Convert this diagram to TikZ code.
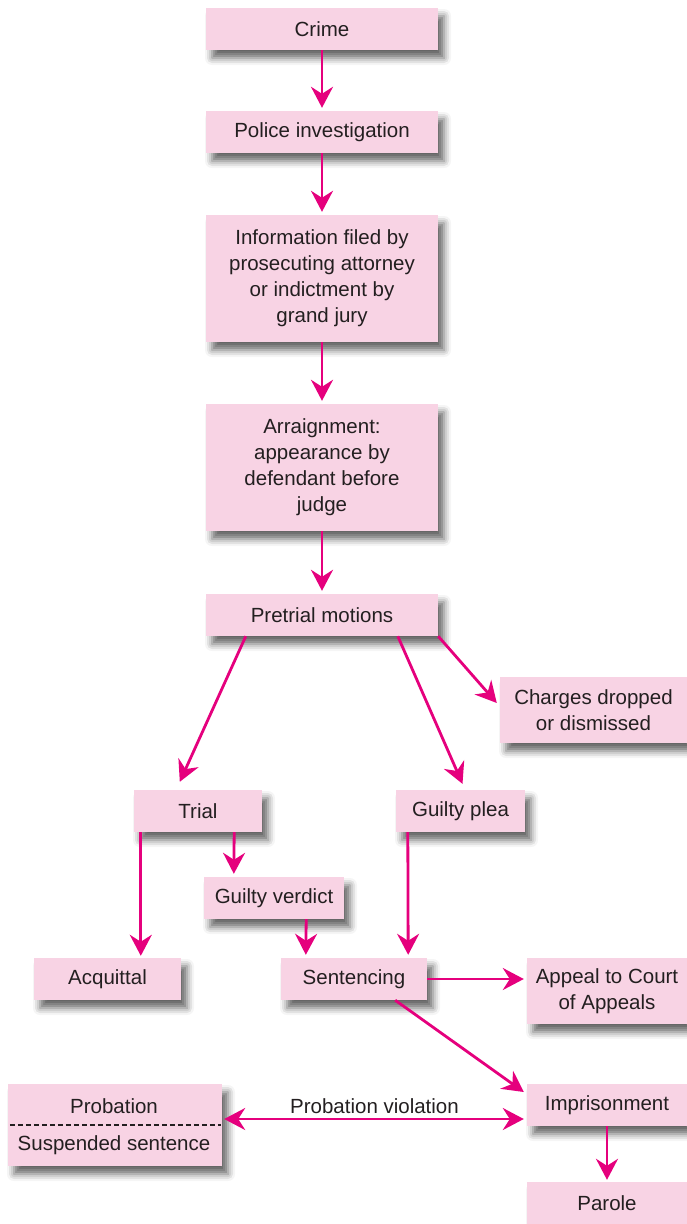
\documentclass[tikz,border=0pt]{standalone}
\usepackage{fontspec}
\setmainfont{Liberation Sans}
\usetikzlibrary{arrows.meta,shadows.blur}
\definecolor{boxpink}{HTML}{F8D3E4}
\definecolor{arrowmag}{HTML}{E5007D}
\definecolor{txt}{HTML}{231F20}
\tikzset{
  stagefont/.style={font=\fontsize{20.5}{26}\selectfont},
  stage/.style={fill=boxpink, text=txt, align=center, inner sep=2pt, stagefont,
    blur shadow={shadow xshift=6pt, shadow yshift=-8pt, shadow blur radius=7pt, shadow opacity=60}},
  flow/.style={draw=arrowmag, line width=2.8pt,
    -{Stealth[length=21pt, width=22pt, inset=7pt]}},
  twoway/.style={draw=arrowmag, line width=2.8pt,
    {Stealth[length=21pt, width=22pt, inset=7pt]}-{Stealth[length=21pt, width=22pt, inset=7pt]}}
}
\begin{document}
\begin{tikzpicture}[x=1pt, y=-1pt]
\useasboundingbox (0,0) rectangle (687,1224);

% stages of the criminal case
\node[stage, minimum width=232pt, minimum height=42pt] (crime) at (322,29) {Crime};
\node[stage, minimum width=232pt, minimum height=42pt] (police) at (322,132) {Police investigation};
\node[stage, minimum width=232pt, minimum height=127pt] (info) at (322,278.5)
  {Information filed by\\prosecuting attorney\\or indictment by\\grand jury};
\node[stage, minimum width=232pt, minimum height=127pt] (arraign) at (322,467.5)
  {Arraignment:\\appearance by\\defendant before\\judge};
\node[stage, minimum width=232pt, minimum height=42pt] (pretrial) at (322,615) {Pretrial motions};
\node[stage, minimum width=187pt, minimum height=66pt] (charges) at (593.5,710) {Charges dropped\\or dismissed};
\node[stage, minimum width=128pt, minimum height=42pt] (trial) at (198,811) {Trial};
\node[stage, minimum width=129pt, minimum height=42pt] (plea) at (460.5,811) {Guilty plea};
\node[stage, minimum width=140pt, minimum height=42pt] (verdict) at (274,898) {Guilty verdict};
\node[stage, minimum width=147pt, minimum height=42pt] (acquittal) at (107.5,979) {Acquittal};
\node[stage, minimum width=146pt, minimum height=42pt] (sentencing) at (354,979) {Sentencing};
\node[stage, minimum width=160pt, minimum height=66pt] (appeal) at (607,991) {Appeal to Court\\of Appeals};
\node[stage, minimum width=160pt, minimum height=42pt] (prison) at (607,1105) {Imprisonment};
\node[stage, minimum width=214pt, minimum height=82pt] (probation) at (115,1125) {};
\node[stage, minimum width=160pt, minimum height=42pt] (parole) at (607,1203) {Parole};

% split probation box
\draw[txt, line width=1.3pt, dash pattern=on 5pt off 3pt]
  ([xshift=2pt]probation.west) -- ([xshift=-1pt]probation.east);
\node[text=txt, stagefont] (probtop) at (114,1106) {Probation};
\node[text=txt, stagefont] (probbot) at (114,1145) {Suspended sentence};

% connectors
\draw[flow, shorten >=3pt] (crime) -- (police);
\draw[flow, shorten >=3pt] (police) -- (info);
\draw[flow, shorten >=3pt] (info) -- (arraign);
\draw[flow, shorten >=3pt] (arraign) -- (pretrial);
\draw[flow] ([xshift=40pt]pretrial.south west) -- ([xshift=46pt, yshift=8pt]trial.north west);
\draw[flow] ([xshift=192pt]pretrial.south west) -- ([xshift=2pt, yshift=6pt]plea.north);
\draw[flow] (pretrial.south east) -- ([xshift=-3pt, yshift=7pt]charges.west);
\draw[flow, shorten >=2pt] ([xshift=7pt]trial.south west) -- ([xshift=107pt]acquittal.north west);
\draw[flow, shorten >=3pt] ([xshift=-28pt]trial.south east) -- ([xshift=30pt]verdict.north west);
\draw[flow, shorten >=3pt] ([xshift=-38pt]verdict.south east) -- ([xshift=25pt]sentencing.north west);
\draw[flow, shorten >=3pt] ([xshift=12pt]plea.south west) -- ([xshift=-19pt]sentencing.north east);
\draw[flow, shorten >=3pt] (sentencing.east) -- ([yshift=12pt]appeal.west);
\draw[flow] ([xshift=-32pt]sentencing.south east) -- ([xshift=-3pt, yshift=13pt]prison.west);
\draw[flow, shorten >=2pt] (prison.south) -- (parole.north);
\draw[twoway, shorten <=2pt, shorten >=3pt]
  ([yshift=6pt]probation.east) -- ([yshift=-14pt]prison.west)
  node[midway, above=1pt, text=txt, stagefont] (viol) {Probation violation};
\end{tikzpicture}
\end{document}
